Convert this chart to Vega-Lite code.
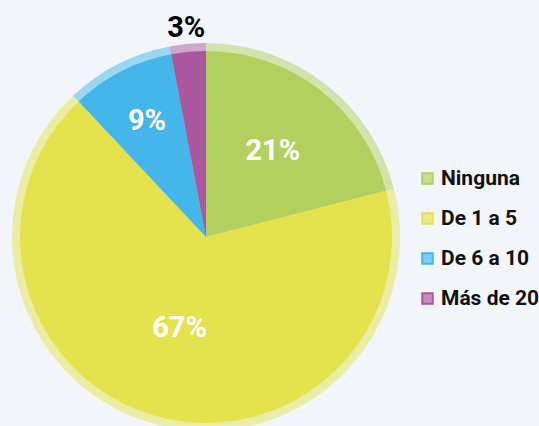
{
  "$schema": "https://vega.github.io/schema/vega-lite/v6.json",
  "width": 412,
  "height": 378,
  "autosize": {"type": "none"},
  "padding": {"top": 48, "left": 0, "right": 127, "bottom": 0},
  "background": "#f2f6fa",
  "data": {
    "values": [
      {"cat": "Ninguna", "value": 21, "label": "21%", "o": 1},
      {"cat": "De 1 a 5", "value": 67, "label": "67%", "o": 2},
      {"cat": "De 6 a 10", "value": 9, "label": "9%", "o": 3},
      {"cat": "Más de 20", "value": 3, "label": "3%", "o": 4}
    ]
  },
  "encoding": {
    "theta": {"field": "value", "type": "quantitative", "stack": true},
    "order": {"field": "o", "type": "quantitative"}
  },
  "layer": [
    {
      "mark": {"type": "arc", "outerRadius": 194, "opacity": 0.5},
      "encoding": {
        "color": {
          "field": "cat", "type": "nominal",
          "scale": {"domain": ["Ninguna", "De 1 a 5", "De 6 a 10", "Más de 20"], "range": ["#b3d05e", "#e4e34d", "#44b6ea", "#aa579f"]},
          "legend": {
            "title": null,
            "orient": "none",
            "legendX": 417,
            "legendY": 120,
            "symbolType": "square",
            "symbolSize": 110,
            "symbolOpacity": 1,
            "labelFont": "Roboto",
            "labelFontSize": 21,
            "labelFontWeight": "bold",
            "labelColor": "#111111",
            "labelOffset": 3,
            "rowPadding": 18,
            "labelLimit": 200,
            "encode": {
              "symbols": {
                "update": {
                  "fillOpacity": {"value": 0.65},
                  "stroke": {"signal": "scale('color', datum.value)"},
                  "strokeWidth": {"value": 2},
                  "opacity": {"value": 1}
                }
              }
            }
          }
        }
      }
    },
    {
      "mark": {"type": "arc", "outerRadius": 186},
      "encoding": {
        "color": {"field": "cat", "type": "nominal"}
      }
    },
    {
      "mark": {"type": "text", "font": "Roboto", "fontWeight": "bold", "fontSize": 29, "radius": 109, "fill": "#ffffff"},
      "encoding": {
        "text": {"condition": {"test": "datum.cat == 'Ninguna'", "field": "label"}, "value": ""}
      }
    },
    {
      "mark": {"type": "text", "font": "Roboto", "fontWeight": "bold", "fontSize": 29, "radius": 95, "fill": "#ffffff"},
      "encoding": {
        "text": {"condition": {"test": "datum.cat == 'De 1 a 5'", "field": "label"}, "value": ""}
      }
    },
    {
      "mark": {"type": "text", "font": "Roboto", "fontWeight": "bold", "fontSize": 29, "radius": 130, "fill": "#ffffff"},
      "encoding": {
        "text": {"condition": {"test": "datum.cat == 'De 6 a 10'", "field": "label"}, "value": ""}
      }
    },
    {
      "mark": {"type": "text", "font": "Roboto", "fontWeight": "bold", "fontSize": 29, "radius": 210, "fill": "#000000"},
      "encoding": {
        "text": {"condition": {"test": "datum.cat == 'Más de 20'", "field": "label"}, "value": ""}
      }
    }
  ]
}
